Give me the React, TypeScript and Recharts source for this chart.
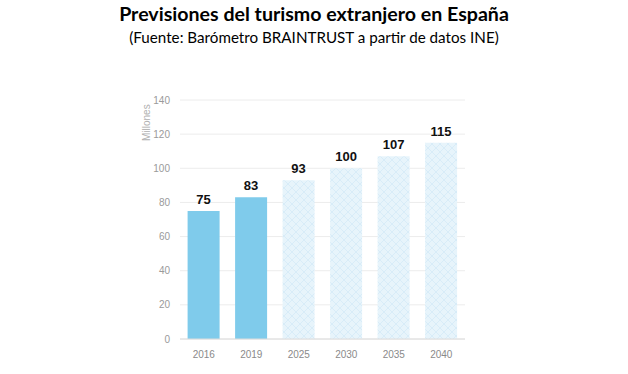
import React from "react";
import { BarChart, Bar, XAxis, YAxis, CartesianGrid, LabelList, Cell } from "recharts";

const years = ["2016", "2019", "2025", "2030", "2035", "2040"];
const tourists = [75, 83, 93, 100, 107, 115];
const isForecast = [false, false, true, true, true, true];
const yTicks = [0, 20, 40, 60, 80, 100, 120, 140];

const data = years.map((y, i) => ({ year: y, value: tourists[i], forecast: isForecast[i] }));

export default function App() {
  return (
    <div style={{ position: "absolute", left: 0, top: 0, width: 628, height: 374, background: "#fff" }}>
      <div style={{ position: "absolute", left: 0, top: 2, width: 628, textAlign: "center", fontFamily: "Lato, 'Open Sans', sans-serif", fontWeight: 700, fontSize: 19.6, color: "#000" }}>
        Previsiones del turismo extranjero en España
      </div>
      <div style={{ position: "absolute", left: 0, top: 28, width: 628, textAlign: "center", fontFamily: "Lato, 'Open Sans', sans-serif", fontSize: 15.2, color: "#000" }}>
        (Fuente: Barómetro BRAINTRUST a partir de datos INE)
      </div>
      <BarChart width={628} height={374} data={data} margin={{ top: 100, right: 163, bottom: 10, left: 130 }} barCategoryGap="16%">
        <defs>
          <pattern id="hatch" width="8" height="8" patternUnits="userSpaceOnUse">
            <rect width="8" height="8" fill="#e7f4fb" />
            <path d="M0,0 L8,8 M8,0 L0,8" stroke="#d8ecf8" strokeWidth="1" />
          </pattern>
        </defs>
        <CartesianGrid vertical={false} stroke="#ececec" />
        <XAxis dataKey="year" axisLine={{ stroke: "#dcdcdc" }} tickLine={false} tick={{ fill: "#8a8a8a", fontSize: 10, fontFamily: "Liberation Sans, Arial, sans-serif" }} height={25} tickMargin={6} />
        <YAxis domain={[0, 140]} ticks={yTicks} axisLine={false} tickLine={false} width={50} tick={{ fill: "#9a9a9a", fontSize: 10, fontFamily: "Liberation Sans, Arial, sans-serif" }} tickMargin={4}
          label={{ value: "Millones", angle: -90, position: "insideTopLeft", dx: 8, dy: 36, style: { fill: "#b0b0b0", fontSize: 10, fontFamily: "Liberation Sans, Arial, sans-serif" } }} />
        <Bar dataKey="value" isAnimationActive={false}>
          {data.map((d, i) => (
            <Cell key={i} fill={d.forecast ? "url(#hatch)" : "#7fcbeb"} />
          ))}
          <LabelList dataKey="value" position="top" offset={7} style={{ fill: "#111", fontSize: 13, fontWeight: 700, fontFamily: "Liberation Sans, Arial, sans-serif" }} />
        </Bar>
      </BarChart>
    </div>
  );
}
